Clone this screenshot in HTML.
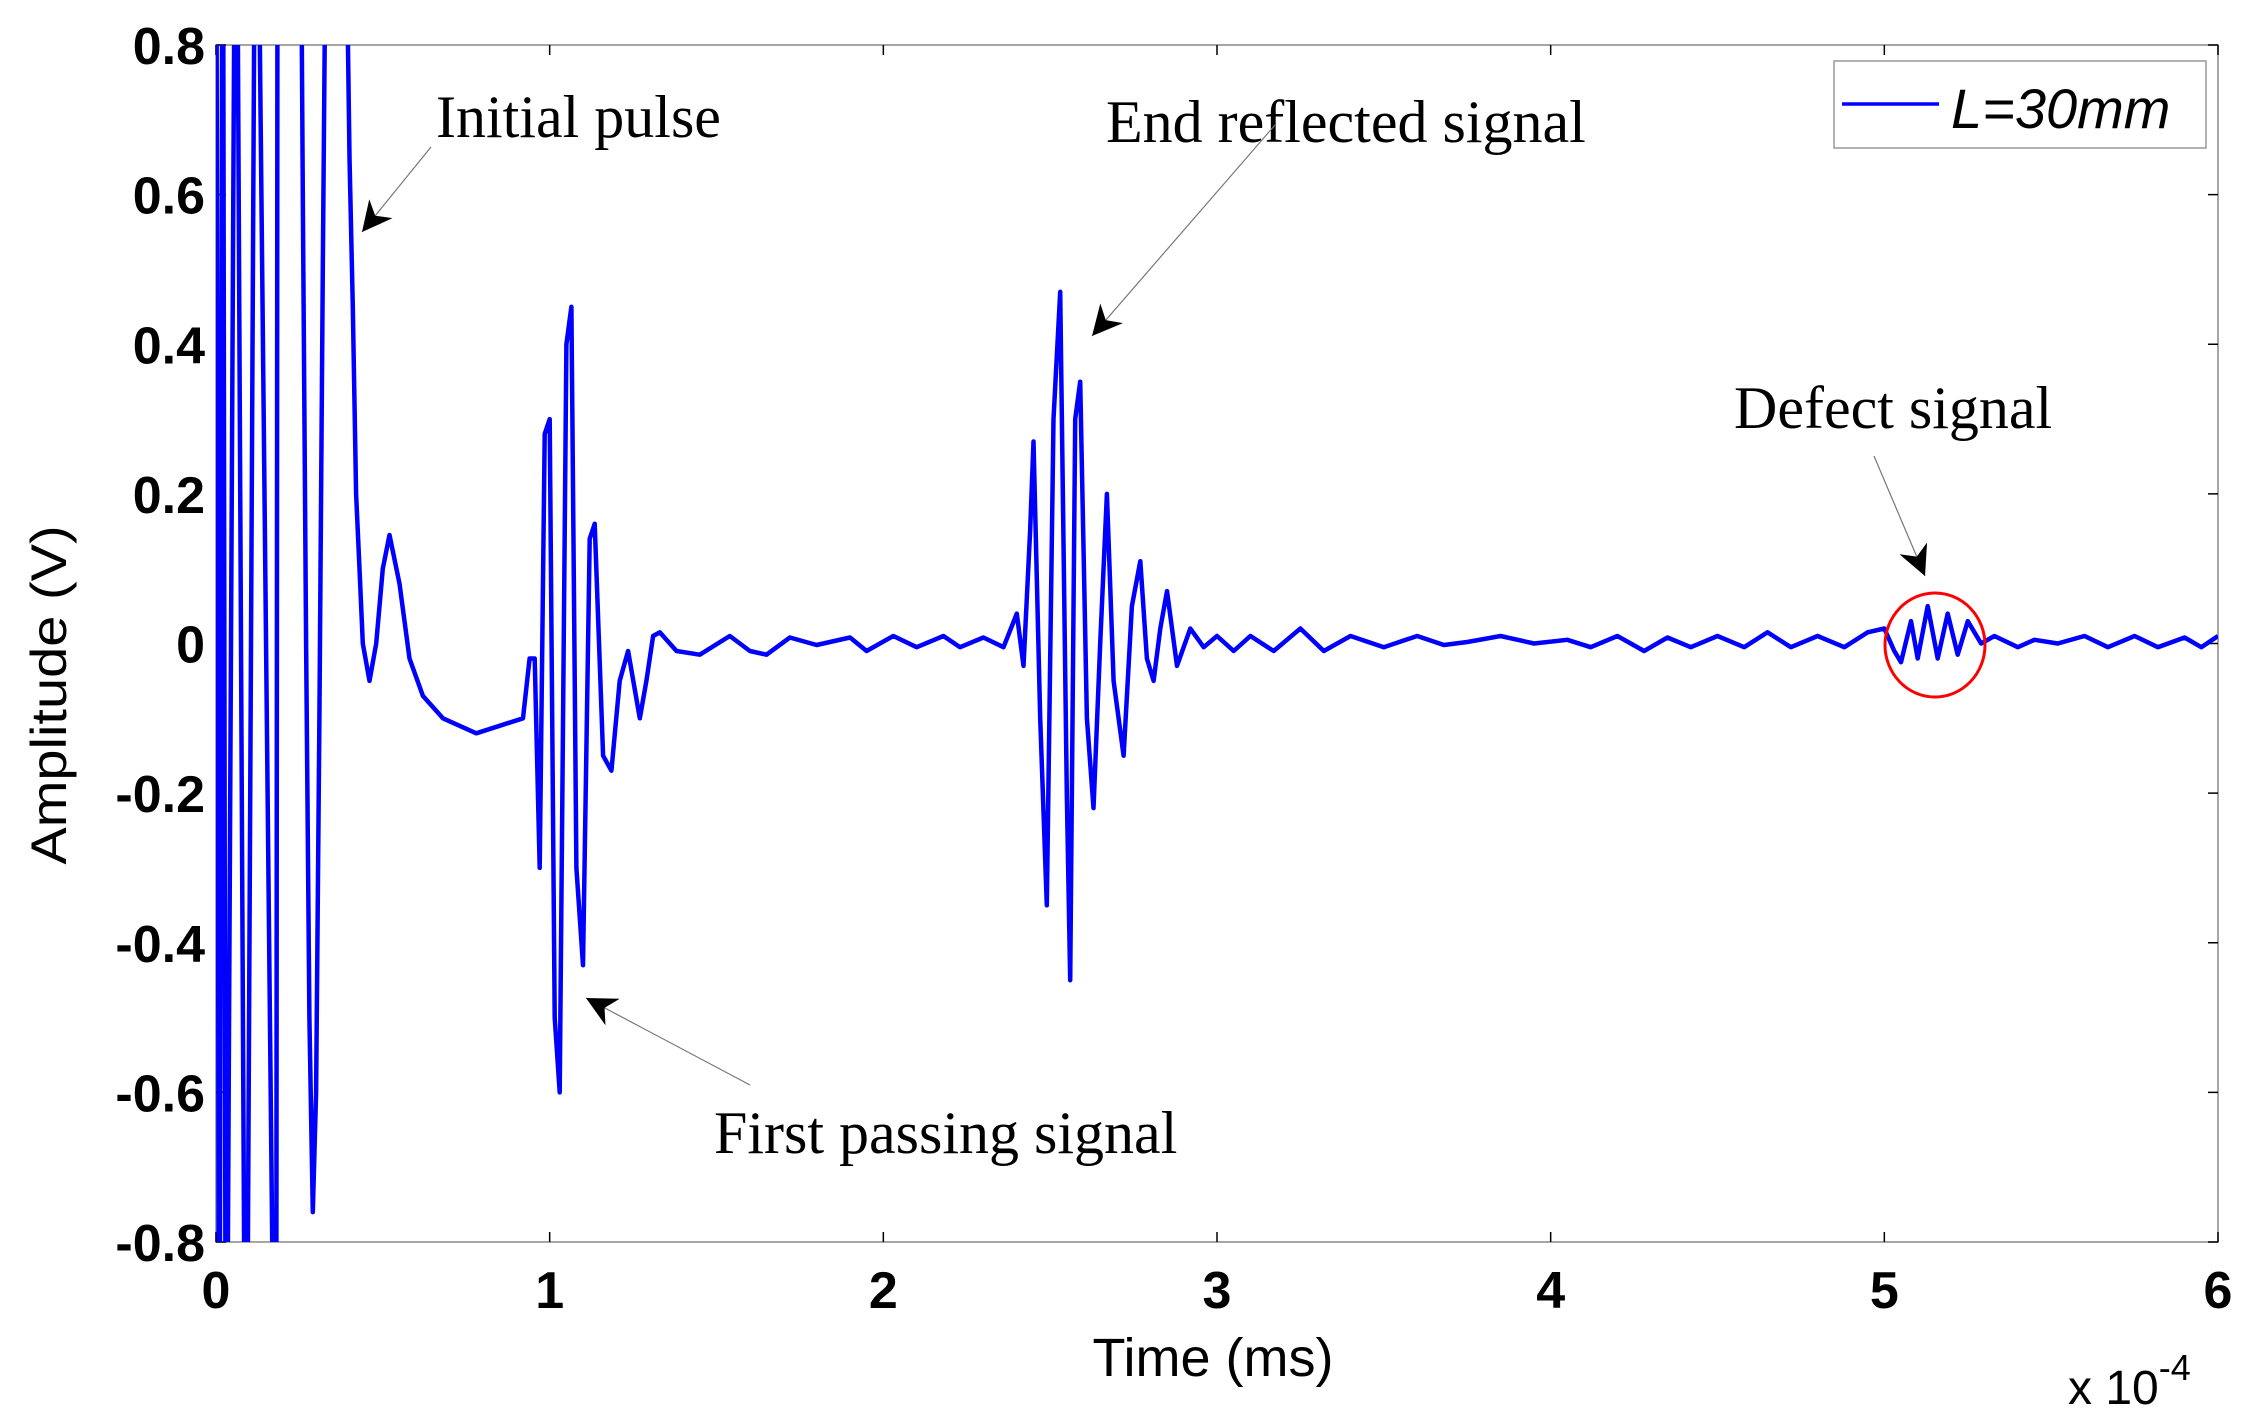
<!DOCTYPE html>
<html><head><meta charset="utf-8"><style>
html,body{margin:0;padding:0;background:#fff;overflow:hidden;width:2257px;height:1425px;}
svg{display:block;}
</style></head><body>
<svg xmlns="http://www.w3.org/2000/svg" width="2257" height="1425" viewBox="0 0 2257 1425" id="chart">
<defs><clipPath id="plotclip"><rect x="216" y="45" width="2002" height="1197"/></clipPath>
<marker id="ah" viewBox="0 0 10 10" refX="10" refY="5" markerWidth="30" markerHeight="30" markerUnits="userSpaceOnUse" orient="auto"><path d="M0,0 L10,5 L0,10 L3,5 z" fill="#000"/></marker></defs>
<rect x="216" y="45" width="2002" height="1197" fill="#fff" stroke="#888" stroke-width="1.5"/>
<g id="ticks"></g>
<g id="series" clip-path="url(#plotclip)"></g>
<text transform="translate(66,695) scale(0.9,1) rotate(-90)" text-anchor="middle" font-family="Liberation Sans, sans-serif" font-size="56">Amplitude (V)</text>
<text x="1213" y="1376" text-anchor="middle" font-family="Liberation Sans, sans-serif" font-size="54">Time (ms)</text>
<text x="2068" y="1404" font-family="Liberation Sans, sans-serif" font-size="48">x 10<tspan dy="-24" font-size="36">-4</tspan></text>
<g>
<rect x="1834" y="61" width="372" height="87" fill="#fff" stroke="#999" stroke-width="1.5"/>
<line x1="1842" y1="104" x2="1939" y2="104" stroke="#0000ff" stroke-width="3.5"/>
<text x="1951" y="128" font-family="Liberation Sans, sans-serif" font-style="italic" font-size="56">L=30mm</text>
</g>
<g font-family="Liberation Serif, serif" font-size="60" fill="#000">
<text x="436" y="137">Initial pulse</text>
<line x1="431" y1="147" x2="362" y2="232" stroke="#777" stroke-width="1.2" marker-end="url(#ah)"/>
<text x="1106" y="142">End reflected signal</text>
<line x1="1275" y1="125" x2="1092" y2="336" stroke="#777" stroke-width="1.2" marker-end="url(#ah)"/>
<text x="714" y="1153">First passing signal</text>
<line x1="750" y1="1085" x2="586" y2="998" stroke="#777" stroke-width="1.2" marker-end="url(#ah)"/>
<text x="1734" y="428">Defect signal</text>
<line x1="1874" y1="456" x2="1925" y2="576" stroke="#777" stroke-width="1.2" marker-end="url(#ah)"/>
<ellipse cx="1935" cy="645" rx="50" ry="52" fill="none" stroke="#ff0000" stroke-width="3"/>
</g>
</svg>
<script>
const times = [0,0.01,0.02,0.03,0.06,0.09,0.12,0.18,0.185,0.25,0.26,0.27,0.28,0.29,0.30,0.31,0.32,0.335,0.38,0.40,0.41,0.42,0.43,0.44,0.46,0.48,0.50,0.52,0.55,0.58,0.62,0.68,0.78,0.85,0.92,0.94,0.955,0.97,0.985,1.0,1.015,1.03,1.05,1.065,1.08,1.10,1.12,1.135,1.16,1.185,1.21,1.235,1.27,1.29,1.31,1.33,1.38,1.45,1.54,1.60,1.65,1.72,1.80,1.90,1.95,2.03,2.10,2.18,2.23,2.30,2.36,2.40,2.42,2.44,2.45,2.47,2.49,2.51,2.53,2.55,2.56,2.575,2.59,2.61,2.63,2.65,2.67,2.69,2.72,2.745,2.77,2.79,2.81,2.83,2.85,2.88,2.92,2.96,3.0,3.05,3.10,3.17,3.25,3.32,3.40,3.50,3.60,3.68,3.75,3.85,3.95,4.05,4.12,4.20,4.28,4.35,4.42,4.50,4.58,4.65,4.72,4.80,4.88,4.95,5.0,5.03,5.05,5.08,5.10,5.13,5.16,5.19,5.22,5.25,5.29,5.33,5.40,5.45,5.52,5.60,5.67,5.75,5.82,5.90,5.95,6.0];
const values = [1.3,-1.3,1.3,-1.3,1.3,-1.3,1.3,-1.3,1.3,1.3,0.6,0.0,-0.5,-0.76,-0.6,-0.1,0.5,1.3,1.3,0.65,0.45,0.2,0.1,0.0,-0.05,0.0,0.1,0.145,0.08,-0.02,-0.07,-0.1,-0.12,-0.11,-0.1,-0.02,-0.02,-0.3,0.28,0.3,-0.5,-0.6,0.4,0.45,-0.3,-0.43,0.14,0.16,-0.15,-0.17,-0.05,-0.01,-0.1,-0.05,0.01,0.015,-0.01,-0.015,0.01,-0.01,-0.015,0.008,-0.002,0.008,-0.01,0.01,-0.005,0.01,-0.005,0.008,-0.005,0.04,-0.03,0.15,0.27,-0.1,-0.35,0.3,0.47,-0.2,-0.45,0.3,0.35,-0.1,-0.22,0.0,0.2,-0.05,-0.15,0.05,0.11,-0.02,-0.05,0.02,0.07,-0.03,0.02,-0.005,0.01,-0.01,0.01,-0.01,0.02,-0.01,0.01,-0.005,0.01,-0.002,0.002,0.01,0.0,0.005,-0.005,0.01,-0.01,0.008,-0.005,0.01,-0.005,0.015,-0.005,0.01,-0.005,0.015,0.02,-0.01,-0.025,0.03,-0.02,0.05,-0.02,0.04,-0.015,0.03,0.0,0.01,-0.005,0.005,0.0,0.01,-0.005,0.01,-0.005,0.008,-0.005,0.01];
const xTicks = [0,1,2,3,4,5,6];
const xTickLabels = ["0","1","2","3","4","5","6"];
const yTicks = [0.8,0.6,0.4,0.2,0,-0.2,-0.4,-0.6,-0.8];
const yTickLabels = ["0.8","0.6","0.4","0.2","0","-0.2","-0.4","-0.6","-0.8"];

const L=216,R=2218,T=45,B=1242;
const xMin=0,xMax=6,yMin=-0.8,yMax=0.8;
const sx=v=>L+(v-xMin)/(xMax-xMin)*(R-L);
const sy=v=>B-(v-yMin)/(yMax-yMin)*(B-T);
const NS="http://www.w3.org/2000/svg";
const tg=document.getElementById('ticks');
xTicks.forEach((t,i)=>{
  const x=sx(t);
  [[B,B-10],[T,T+10]].forEach(([a,b])=>{
    const ln=document.createElementNS(NS,'line');
    
    
    ln.setAttribute('x1',x);ln.setAttribute('x2',x);ln.setAttribute('y1',a);ln.setAttribute('y2',b);
    ln.setAttribute('stroke','#000');ln.setAttribute('stroke-width','1.5');tg.appendChild(ln);
  });
  const tx=document.createElementNS(NS,'text');
  
  
  tx.setAttribute('x',x);tx.setAttribute('y',1308);tx.setAttribute('text-anchor','middle');
  tx.setAttribute('font-family','Liberation Sans, sans-serif');tx.setAttribute('font-size','52');tx.setAttribute('font-weight','bold');
  tx.textContent=xTickLabels[i];tg.appendChild(tx);
});
yTicks.forEach((v,i)=>{
  const y=sy(v);
  [[L,L+10],[R,R-10]].forEach(([a,b])=>{
    const ln=document.createElementNS(NS,'line');
    
    
    ln.setAttribute('x1',a);ln.setAttribute('x2',b);ln.setAttribute('y1',y);ln.setAttribute('y2',y);
    ln.setAttribute('stroke','#000');ln.setAttribute('stroke-width','1.5');tg.appendChild(ln);
  });
  const tx=document.createElementNS(NS,'text');
  
  
  tx.setAttribute('x',205);tx.setAttribute('y',y+19);tx.setAttribute('text-anchor','end');
  tx.setAttribute('font-family','Liberation Sans, sans-serif');tx.setAttribute('font-size','52');tx.setAttribute('font-weight','bold');
  tx.textContent=yTickLabels[i];tg.appendChild(tx);
});
const pl=document.createElementNS(NS,'polyline');


pl.setAttribute('points',times.map((t,i)=>sx(t).toFixed(1)+','+sy(values[i]).toFixed(1)).join(' '));
pl.setAttribute('fill','none');pl.setAttribute('stroke','#0000ff');pl.setAttribute('stroke-width','4.5');
pl.setAttribute('stroke-linejoin','round');
document.getElementById('series').appendChild(pl);
</script>
</body></html>
